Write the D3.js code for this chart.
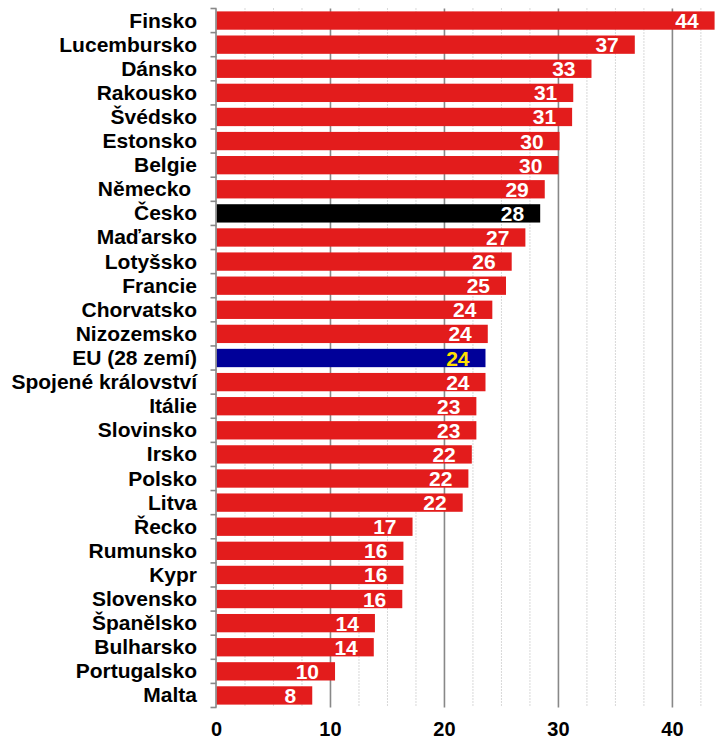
<!DOCTYPE html>
<html>
<head>
<meta charset="utf-8">
<script src="https://cdn.jsdelivr.net/npm/d3@7.9.0/dist/d3.min.js"></script>
<style>
  body { margin: 0; background: #fff; }
  svg { display: block; font-family: "Liberation Sans", Arial, sans-serif; }
</style>
</head>
<body>
<div id="chart"></div>
<script>
const countries = [
  'Finsko', 'Lucembursko', 'Dánsko', 'Rakousko', 'Švédsko', 'Estonsko', 'Belgie',
  'Německo ', 'Česko', 'Maďarsko', 'Lotyšsko', 'Francie', 'Chorvatsko', 'Nizozemsko',
  'EU (28 zemí)', 'Spojené království', 'Itálie', 'Slovinsko', 'Irsko', 'Polsko',
  'Litva', 'Řecko', 'Rumunsko', 'Kypr', 'Slovensko', 'Španělsko', 'Bulharsko',
  'Portugalsko', 'Malta'
];
const values = [
  43.7, 36.7, 32.9, 31.3, 31.2, 30.1, 30.0,
  28.8, 28.4, 27.1, 25.9, 25.4, 24.2, 23.8,
  23.6, 23.6, 22.8, 22.8, 22.4, 22.1,
  21.6, 17.2, 16.4, 16.4, 16.3, 13.9, 13.8,
  10.4, 8.4
];
const xTicks = [0, 10, 20, 30, 40];
const minorTicks = d3.range(2.5, 44, 2.5).filter(d => d % 10 !== 0);

const data = countries.map((c, i) => ({ country: c, value: values[i] }));

const width = 726;
const height = 740;
const margin = { top: 8.5, right: 8, bottom: 32.5, left: 216.5 };

const x = d3.scaleLinear().domain([0, 44]).range([margin.left, width - margin.right]);
const y = d3.scaleBand()
  .domain(countries)
  .range([margin.top, height - margin.bottom])
  .paddingInner(0.24)
  .paddingOuter(0.12);

const svg = d3.select('#chart').append('svg')
  .attr('width', width)
  .attr('height', height);

// gridlines
svg.append('g')
  .selectAll('line')
  .data(minorTicks)
  .join('line')
  .attr('x1', d => x(d)).attr('x2', d => x(d))
  .attr('y1', margin.top).attr('y2', height - margin.bottom)
  .attr('stroke', '#b0b0b0')
  .attr('stroke-width', 1)
  .attr('stroke-dasharray', '1,2');

svg.append('g')
  .selectAll('line')
  .data(xTicks.slice(1))
  .join('line')
  .attr('x1', d => x(d)).attr('x2', d => x(d))
  .attr('y1', margin.top).attr('y2', height - margin.bottom)
  .attr('stroke', '#888')
  .attr('stroke-width', 1.6);

const colorOf = d => d.country === 'Česko' ? '#000000'
  : d.country.startsWith('EU') ? '#000099' : '#e31c1c';

svg.append('g')
  .selectAll('rect')
  .data(data)
  .join('rect')
  .attr('x', x(0))
  .attr('y', d => y(d.country))
  .attr('width', d => x(d.value) - x(0))
  .attr('height', y.bandwidth())
  .attr('fill', colorOf);

// value labels
svg.append('g')
  .selectAll('text')
  .data(data)
  .join('text')
  .attr('x', d => x(d.value) - 16)
  .attr('y', d => y(d.country) + y.bandwidth() / 2 + 7.5)
  .attr('text-anchor', 'end')
  .attr('font-size', 21)
  .attr('font-weight', 'bold')
  .attr('fill', d => d.country.startsWith('EU') ? '#ffe000' : '#fff')
  .text(d => d3.format('.0f')(d.value));

// left axis
const boundaries = d3.range(countries.length + 1).map(i => margin.top + i * ((height - margin.bottom - margin.top) / countries.length));
const leftAxis = svg.append('g');
leftAxis.append('line')
  .attr('x1', x(0) - 0.5).attr('x2', x(0) - 0.5)
  .attr('y1', margin.top).attr('y2', height - margin.bottom)
  .attr('stroke', '#888').attr('stroke-width', 1.6);
leftAxis.selectAll('.tick')
  .data(boundaries)
  .join('line')
  .attr('class', 'tick')
  .attr('x1', x(0) - 6).attr('x2', x(0))
  .attr('y1', d => d).attr('y2', d => d)
  .attr('stroke', '#888').attr('stroke-width', 1.6);

// category labels
svg.append('g')
  .selectAll('text')
  .data(data)
  .join('text')
  .attr('x', 197)
  .attr('y', d => y(d.country) + y.bandwidth() / 2 + 7)
  .attr('text-anchor', 'end')
  .attr('font-size', 21)
  .attr('font-weight', 'bold')
  .attr('fill', '#000')
  .style('white-space', 'pre')
  .text(d => d.country);

// bottom tick labels
svg.append('g')
  .selectAll('text')
  .data(xTicks)
  .join('text')
  .attr('x', d => x(d))
  .attr('y', 736)
  .attr('text-anchor', 'middle')
  .attr('font-size', 20)
  .attr('font-weight', 'bold')
  .attr('fill', '#000')
  .text(d => d);
</script>
</body>
</html>
